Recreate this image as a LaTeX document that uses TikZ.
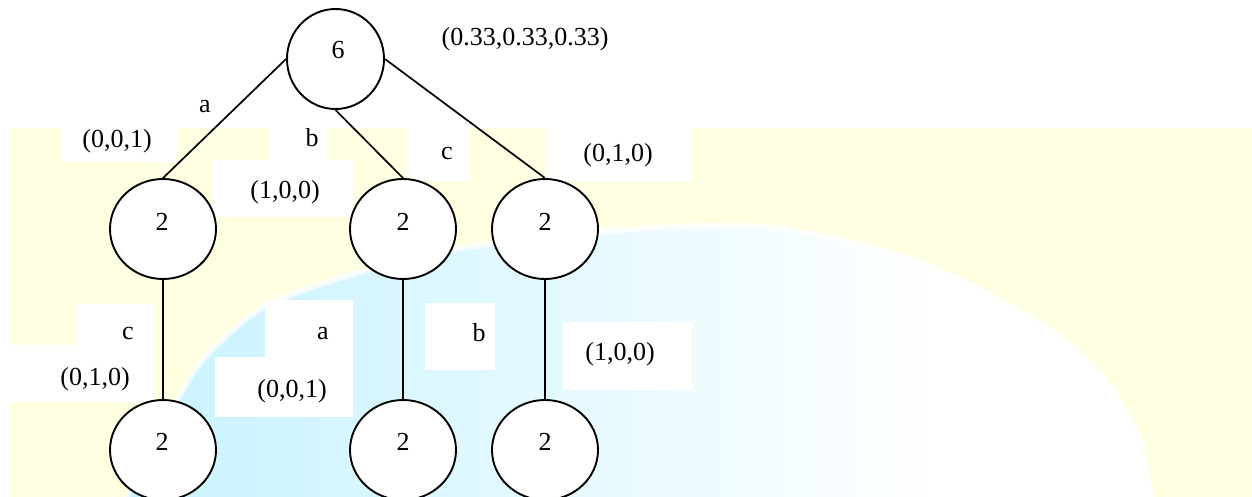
\documentclass[tikz,border=0pt]{standalone}
\usepackage{fontspec}
\setmainfont{Liberation Serif}
\usetikzlibrary{shapes.geometric}
\definecolor{bgyellow}{RGB}{255,255,226}
\definecolor{globecyan}{RGB}{198,242,255}
\pgfdeclarelayer{bg}
\pgfdeclarelayer{edges}
\pgfdeclarelayer{boxes}
\pgfsetlayers{bg,edges,boxes,main}
\begin{document}
\begin{tikzpicture}[x=1pt,y=-1pt,
  nd/.style={draw, line width=1.9pt, fill=white, ellipse, inner sep=0pt,
             minimum width=106pt, minimum height=100pt},
  topnd/.style={nd, minimum width=97pt},
  lbl/.style={font=\fontsize{26}{30}\selectfont, inner sep=0pt, anchor=base},
  edge/.style={line width=1.7pt},
  wbox/.style={fill=white}]
\useasboundingbox (0,0) rectangle (1252,497);

% ---------- background ----------
\begin{pgfonlayer}{bg}
\fill[white] (0,0) rectangle (1252,497);
\fill[bgyellow] (9,128) rectangle (1252,497);
\fill[white] plot[smooth] coordinates {(112,520) (127,497) (150,445) (177,400) (205,357) (262,308) (340,278) (450,250) (600,232) (700,226) (792,230) (900,255) (975,287) (1050,330) (1100,373) (1137,433) (1152,497) (1156,520)} -- cycle;
\begin{scope}
\clip plot[smooth] coordinates {(112,520) (127,497) (150,445) (177,400) (205,357) (262,308) (340,278) (450,250) (600,232) (700,226) (792,230) (900,255) (975,287) (1050,330) (1100,373) (1137,433) (1152,497) (1156,520)} -- cycle;
\shade[left color=globecyan, right color=white] (100,200) rectangle (950,540);
\end{scope}
\draw[white, line width=6pt, opacity=.7] plot[smooth] coordinates {(112,520) (127,497) (150,445) (177,400) (205,357) (262,308) (340,278) (450,250) (600,232) (700,226) (792,230) (900,255) (975,287) (1050,330) (1100,373) (1137,433) (1152,497) (1156,520)};
\end{pgfonlayer}

% ---------- nodes ----------
\node[topnd] (n0) at (335.5,59) {};
\node[nd] (n1) at (163,229) {};
\node[nd] (n2) at (403,229) {};
\node[nd] (n3) at (545,229) {};
\node[nd] (n4) at (163,450) {};
\node[nd] (n5) at (403,450) {};
\node[nd] (n6) at (545,450) {};

% ---------- edges ----------
\begin{pgfonlayer}{edges}
\draw[edge] (n0.west) -- (n1.north);
\draw[edge] (n0.south) -- (n2.north);
\draw[edge] (n0.east) -- (n3.north);
\draw[edge] (n1.south) -- (n4.north);
\draw[edge] (n2.south) -- (n5.north);
\draw[edge] (n3.south) -- (n6.north);
\end{pgfonlayer}

% ---------- white label boxes ----------
\begin{pgfonlayer}{boxes}
\fill[wbox] (61,120) rectangle (178,162);
\fill[wbox] (269,120) rectangle (328,160);
\fill[wbox] (213,160) rectangle (353,217);
\fill[wbox] (407,122) rectangle (469,181);
\fill[wbox] (545,120) rectangle (692,182);
\fill[wbox] (75,304) rectangle (153,345);
\fill[wbox] (9,345) rectangle (153,402);
\fill[wbox] (265,300) rectangle (353,357);
\fill[wbox] (215,357) rectangle (353,417);
\fill[wbox] (425,303) rectangle (495,370);
\fill[wbox] (563,322) rectangle (692,390);
\end{pgfonlayer}

% ---------- texts ----------
\node[lbl] (t0) at (338,58.5) {6};
\node[lbl] (t1) at (162,230.5) {2};
\node[lbl] (t2) at (403,230.5) {2};
\node[lbl] (t3) at (545,230.5) {2};
\node[lbl] (t4) at (162,450.5) {2};
\node[lbl] (t5) at (403,450.5) {2};
\node[lbl] (t6) at (545,450.5) {2};

\node[lbl] (w0) at (525,45.5) {(0.33,0.33,0.33)};
\node[lbl] (ea) at (205,113) {a};
\node[lbl] (w1) at (117,147.5) {(0,0,1)};
\node[lbl] (eb) at (312,147) {b};
\node[lbl] (ec) at (447,159.5) {c};
\node[lbl] (w3) at (618,161.5) {(0,1,0)};
\node[lbl] (w2) at (285,198.5) {(1,0,0)};

\node[lbl] (ec2) at (128,339.5) {c};
\node[lbl] (w4) at (95,385.5) {(0,1,0)};
\node[lbl] (ea2) at (323,339.5) {a};
\node[lbl] (w5) at (292,397.5) {(0,0,1)};
\node[lbl] (eb2) at (479,341) {b};
\node[lbl] (w6) at (620,360.5) {(1,0,0)};
\end{tikzpicture}
\end{document}
